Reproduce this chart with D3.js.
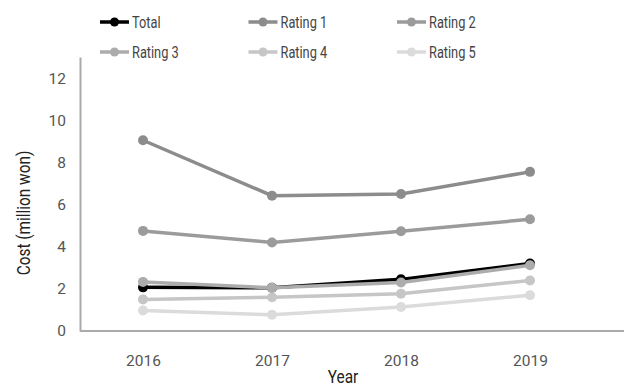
<html>

<head>
    <meta charset="utf-8">
    <title>Cost by rating</title>
</head>
<style>
    body { margin: 0; background: #fff; }
    text { font-family: "Roboto", sans-serif; }
</style>

<body>
    <script src="https://cdn.jsdelivr.net/npm/d3@7"></script>
    <script>
        var years = ["2016", "2017", "2018", "2019"];
        var seriesNames = ["Total", "Rating 1", "Rating 2", "Rating 3", "Rating 4", "Rating 5"];
        var total = [2.07, 2.05, 2.45, 3.2];
        var rating1 = [9.05, 6.42, 6.5, 7.55];
        var rating2 = [4.75, 4.2, 4.73, 5.3];
        var rating3 = [2.33, 2.05, 2.3, 3.12];
        var rating4 = [1.5, 1.6, 1.77, 2.4];
        var rating5 = [0.97, 0.77, 1.14, 1.7];
        var yTicks = [0, 2, 4, 6, 8, 10, 12];

        var colors = ["#000000", "#8c8c8c", "#9b9b9b", "#acacac", "#c6c6c6", "#dbdbdb"];
        var allSeries = [total, rating1, rating2, rating3, rating4, rating5];

        var width = 624;
        var height = 390;

        var svg = d3.select("body").append("svg")
            .attr("width", width)
            .attr("height", height);

        var x = d3.scalePoint()
            .domain(years)
            .range([143, 530]);

        var y = d3.scaleLinear()
            .domain([0, 13])
            .range([331, 57]);

        // axes
        var yAxis = svg.append("g")
            .attr("transform", "translate(80,0)")
            .call(d3.axisLeft(y).tickValues(yTicks).tickSize(0).tickPadding(14));
        yAxis.select(".domain").attr("stroke", "#aaa").attr("stroke-width", 2);
        yAxis.selectAll("text").attr("font-size", 15.5).attr("fill", "#555")
            .attr("font-family", "Roboto, sans-serif");

        var xAxis = svg.append("g")
            .attr("transform", "translate(0,331)")
            .call(d3.axisBottom(x).tickSize(0).tickPadding(24));
        xAxis.select(".domain").attr("d", "M80,0H624").attr("stroke", "#aaa").attr("stroke-width", 2);
        xAxis.selectAll("text").attr("font-size", 15.5).attr("fill", "#555")
            .attr("font-family", "Roboto, sans-serif");

        // axis titles, squeezed a bit to look like the narrow original font
        svg.append("text")
            .attr("transform", "translate(30,213) rotate(-90) scale(0.88,1)")
            .attr("text-anchor", "middle")
            .attr("font-size", 17.5)
            .attr("fill", "#222")
            .text("Cost (million won)");

        svg.append("text")
            .attr("transform", "translate(343,383) scale(0.88,1)")
            .attr("text-anchor", "middle")
            .attr("font-size", 17.5)
            .attr("fill", "#222")
            .text("Year");

        var line = d3.line()
            .x(function (d, i) { return x(years[i]); })
            .y(function (d) { return y(d); });

        allSeries.forEach(function (values, k) {
            var g = svg.append("g");
            g.append("path")
                .attr("d", line(values))
                .attr("fill", "none")
                .attr("stroke", colors[k])
                .attr("stroke-width", 3.5);
            g.selectAll("circle")
                .data(values)
                .enter()
                .append("circle")
                .attr("cx", function (d, i) { return x(years[i]); })
                .attr("cy", function (d) { return y(d); })
                .attr("r", 5)
                .attr("fill", colors[k]);
        });

        // legend
        var legend = svg.append("g");
        seriesNames.forEach(function (name, i) {
            var lx = 100 + (i % 3) * 148.5;
            var ly = 22 + Math.floor(i / 3) * 30;
            var item = legend.append("g").attr("transform", "translate(" + lx + "," + ly + ")");
            item.append("line")
                .attr("x1", 0).attr("x2", 29)
                .attr("stroke", colors[i]).attr("stroke-width", 3.5);
            item.append("circle")
                .attr("cx", 14.5).attr("r", 4.5).attr("fill", colors[i]);
            item.append("text")
                .attr("transform", "translate(32,0) scale(0.8,1)")
                .attr("dy", "0.35em")
                .attr("font-size", 16)
                .attr("fill", "#444")
                .text(name);
        });
    </script>

</body>

</html>
